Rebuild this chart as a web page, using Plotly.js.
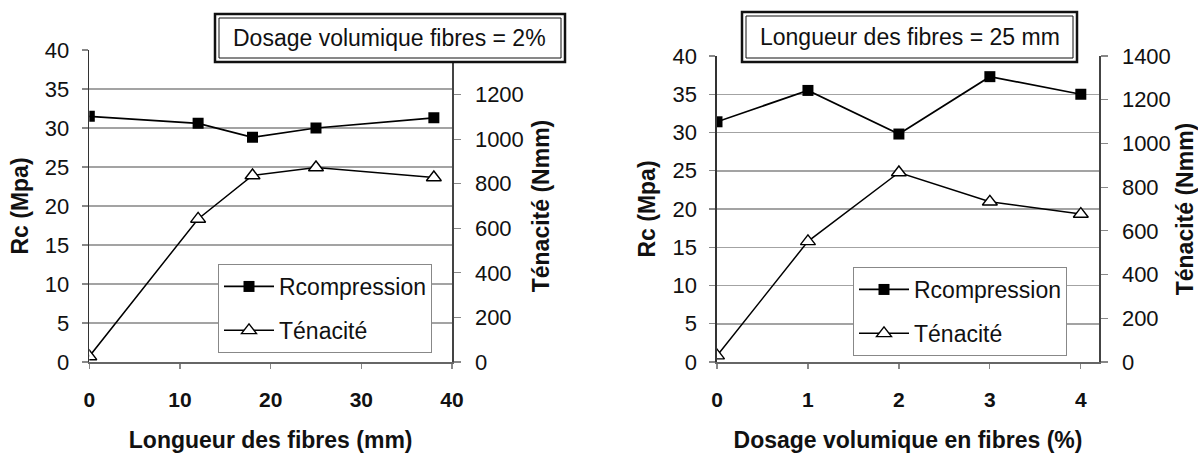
<!DOCTYPE html>
<html>
<head>
<meta charset="utf-8">
<script src="https://cdn.plot.ly/plotly-3.0.1.min.js"></script>
<style>html,body{margin:0;padding:0;background:#fff;}#chart{width:1198px;height:454px;}</style>
</head>
<body>
<div id="chart"></div>
<script>
// Left chart: fibre length (mm), fibre dosage = 2%
const lengthMm = [0, 12, 18, 25, 38];
const lengthRc = [31.5, 30.6, 28.8, 30.0, 31.3];
const lengthTenacity = [25, 642, 837, 873, 828];
// Right chart: fibre dosage (%), fibre length = 25 mm
const dosagePct = [0, 1, 2, 3, 4];
const dosageRc = [31.4, 35.5, 29.8, 37.3, 35.0];
const dosageTenacity = [29, 552, 867, 733, 677];

// tick labels of the right (Ténacité) axes; the 1400 label of the left chart is hidden behind its title box
const tenacityTicksLeft = [0, 200, 400, 600, 800, 1000, 1200];
const tenacityTicksRight = [0, 200, 400, 600, 800, 1000, 1200, 1400];

const seriesNames = ['Rcompression', 'Ténacité'];
const boxTitles = ['Dosage volumique fibres = 2%', 'Longueur des fibres = 25 mm'];
const xTitles = ['Longueur des fibres (mm)', 'Dosage volumique en fibres (%)'];
const yLeftTitle = 'Rc (Mpa)';
const yRightTitle = 'Ténacité (Nmm)';

const W = 1198, H = 454;
const FONT = 'Liberation Sans, Arial, sans-serif';
const px = v => v / W;
const py = v => 1 - v / H;

const rcStyle = {mode: 'lines+markers', line: {color: '#000', width: 1.7},
  marker: {symbol: 'square', size: 11, color: '#000'}};
const tnStyle = {mode: 'lines+markers', line: {color: '#000', width: 1.5},
  marker: {symbol: 'triangle-up', size: 13, color: '#fff', line: {color: '#000', width: 1.4}}};

const traces = [
  Object.assign({x: lengthMm, y: lengthRc, xaxis: 'x', yaxis: 'y', name: seriesNames[0], legend: 'legend', legendgroup: 'a'}, rcStyle),
  Object.assign({x: lengthMm, y: lengthTenacity, xaxis: 'x', yaxis: 'y2', name: seriesNames[1], legend: 'legend', legendgroup: 'b'}, tnStyle),
  Object.assign({x: dosagePct, y: dosageRc, xaxis: 'x2', yaxis: 'y3', name: seriesNames[0], legend: 'legend2', legendgroup: 'c'}, rcStyle),
  Object.assign({x: dosagePct, y: dosageTenacity, xaxis: 'x2', yaxis: 'y4', name: seriesNames[1], legend: 'legend2', legendgroup: 'd'}, tnStyle)
];

function xAxis(domain, range, dtick, anchor, title) {
  return {domain: domain, range: range, dtick: dtick, anchor: anchor,
    showline: true, linecolor: '#666', linewidth: 1.5, showgrid: false, zeroline: false,
    ticks: 'outside', ticklen: 5, tickcolor: '#888', tickwidth: 1.2,
    ticklabelstandoff: 13,
    tickfont: {family: FONT, size: 21, color: '#111', weight: 'bold'},
    title: {text: title, font: {family: FONT, size: 23, color: '#111', weight: 'bold'}, standoff: 22}};
}
function yLeft(domain, anchor) {
  return {domain: domain, range: [0, 40], dtick: 5, anchor: anchor,
    showline: true, linecolor: '#333', linewidth: 1.6, zeroline: false,
    showgrid: true, gridcolor: '#a3a3a3', gridwidth: 1.5,
    ticks: 'outside', ticklen: 6, tickcolor: '#888', tickwidth: 1.2,
    ticklabelstandoff: 8,
    tickfont: {family: FONT, size: 22, color: '#111'},
    title: {text: yLeftTitle, font: {family: FONT, size: 23, color: '#111', weight: 'bold'}, standoff: 10}};
}
function yRight(overlay, anchor, ticks) {
  return {overlaying: overlay, side: 'right', anchor: anchor, range: [0, 1400],
    tickmode: 'array', tickvals: ticks, ticktext: ticks.map(String),
    showline: true, linecolor: '#444', linewidth: 1.5, zeroline: false, showgrid: false,
    ticks: 'outside', ticklen: 7, tickcolor: '#888', tickwidth: 1.2,
    ticklabelstandoff: 10,
    tickfont: {family: FONT, size: 22, color: '#111'},
    title: {text: yRightTitle, font: {family: FONT, size: 23, color: '#111', weight: 'bold'}, standoff: 10}};
}

const yDomL = [py(362), py(50)];
const yDomR = [py(362), py(56)];

function boxShapes(x0, x1, y0, y1) {
  return [
    {type: 'rect', xref: 'paper', yref: 'paper', layer: 'above',
     x0: px(x0), x1: px(x1), y0: py(y1), y1: py(y0),
     line: {color: '#111', width: 2.5}, fillcolor: '#fff'},
    {type: 'rect', xref: 'paper', yref: 'paper', layer: 'above',
     x0: px(x0 + 4), x1: px(x1 - 4), y0: py(y1 - 4), y1: py(y0 + 4),
     line: {color: '#111', width: 1}, fillcolor: 'rgba(0,0,0,0)'}
  ];
}

const legendBase = {xanchor: 'left', yanchor: 'top', bgcolor: '#fff', bordercolor: '#888', borderwidth: 1,
  font: {family: FONT, size: 23, color: '#111'}, tracegroupgap: 11, itemwidth: 50};

const layout = {
  width: W, height: H,
  margin: {l: 0, r: 0, t: 0, b: 0, autoexpand: false},
  paper_bgcolor: '#fff', plot_bgcolor: '#fff',
  font: {family: FONT, color: '#111'},
  xaxis: xAxis([px(89.3), px(452)], [0, 40], 10, 'y', xTitles[0]),
  yaxis: yLeft(yDomL, 'x'),
  yaxis2: yRight('y', 'x', tenacityTicksLeft),
  xaxis2: xAxis([px(717), px(1099)], [0, 4.2], 1, 'y3', xTitles[1]),
  yaxis3: yLeft(yDomR, 'x2'),
  yaxis4: yRight('y3', 'x2', tenacityTicksRight),
  legend: Object.assign({x: px(218), y: py(264)}, legendBase),
  legend2: Object.assign({x: px(853), y: py(267)}, legendBase),
  shapes: boxShapes(215, 565, 14, 62).concat(boxShapes(742, 1077, 12, 62)),
  annotations: [
    {xref: 'paper', yref: 'paper', x: px(390), y: py(38), text: boxTitles[0], showarrow: false,
     font: {family: FONT, size: 23, color: '#111'}, xanchor: 'center', yanchor: 'middle'},
    {xref: 'paper', yref: 'paper', x: px(909.5), y: py(37), text: boxTitles[1], showarrow: false,
     font: {family: FONT, size: 23, color: '#111'}, xanchor: 'center', yanchor: 'middle'}
  ],
  showlegend: true
};

Plotly.newPlot('chart', traces, layout, {staticPlot: true, displayModeBar: false});
</script>
</body>
</html>
